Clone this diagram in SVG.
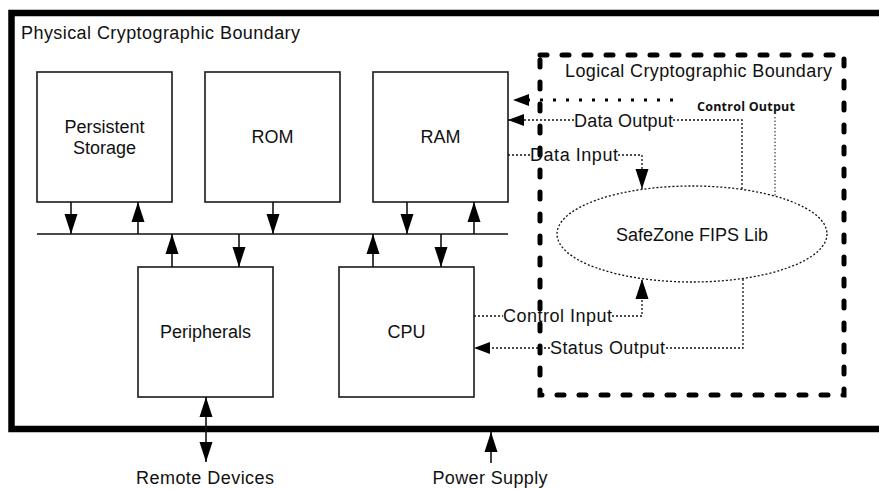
<svg xmlns="http://www.w3.org/2000/svg" width="879" height="489" viewBox="0 0 879 489">
<style>
.box{fill:#fff;stroke:#1a1a1a;stroke-width:1.6}
.lbl{font-family:"Liberation Sans",Arial,sans-serif;font-size:18px;fill:#111}
.mid{text-anchor:middle}
.ln{fill:none;stroke:#111;stroke-width:1.6}
.dot{fill:none;stroke:#111;stroke-width:1.3;stroke-dasharray:2 2}
</style>
<defs>
<marker id="arr" markerUnits="userSpaceOnUse" markerWidth="20" markerHeight="14" refX="20" refY="7" orient="auto-start-reverse"><path d="M0,0.5 L20,7 L0,13.5 z" fill="#000"/></marker>
<marker id="arrs" markerUnits="userSpaceOnUse" markerWidth="16" markerHeight="13" refX="16" refY="6.5" orient="auto"><path d="M0,0.5 L16,6.5 L0,12.5 z" fill="#000"/></marker>
</defs>
<rect width="879" height="489" fill="#fff"/>
<g id="physical-boundary">
<path d="M885,13 H11.5 V429 H885" fill="none" stroke="#000" stroke-width="6.5"/>
<text class="lbl" x="21" y="39" textLength="279">Physical Cryptographic Boundary</text>
</g>
<g id="persistent-storage"><rect class="box" x="37" y="72" width="135" height="130"/><text class="lbl mid" x="104.5" y="133">Persistent</text><text class="lbl mid" x="104.5" y="154">Storage</text></g>
<g id="rom"><rect class="box" x="205" y="72" width="135" height="130"/><text class="lbl mid" x="272.5" y="143">ROM</text></g>
<g id="ram"><rect class="box" x="373" y="72" width="135" height="130"/><text class="lbl mid" x="440.5" y="143">RAM</text></g>
<g id="peripherals"><rect class="box" x="138" y="267" width="135" height="130"/><text class="lbl mid" x="205.5" y="338">Peripherals</text></g>
<g id="cpu"><rect class="box" x="339" y="267" width="135" height="130"/><text class="lbl mid" x="406.5" y="338">CPU</text></g>
<g id="logical-boundary">
<rect x="540" y="55" width="304" height="340" fill="none" stroke="#000" stroke-width="5" stroke-linecap="round" stroke-dasharray="7 15"/>
<text class="lbl" x="565" y="77" textLength="267">Logical Cryptographic Boundary</text>
</g>
<g id="safezone">
<ellipse cx="692" cy="234" rx="135" ry="48" fill="#fff" class="dot"/>
<text class="lbl mid" x="692" y="241">SafeZone FIPS Lib</text>
</g>
<g id="remote-devices"><text class="lbl mid" x="205" y="484" textLength="138">Remote Devices</text></g>
<g id="power-supply"><text class="lbl mid" x="490" y="484" textLength="115">Power Supply</text></g>
<g id="connectors">
<path class="ln" d="M37,234 H508"/>
<path class="ln" d="M71,202 V234" marker-end="url(#arr)"/>
<path class="ln" d="M138,234 V202" marker-end="url(#arr)"/>
<path class="ln" d="M273,202 V234" marker-end="url(#arr)"/>
<path class="ln" d="M407,202 V234" marker-end="url(#arr)"/>
<path class="ln" d="M474,234 V202" marker-end="url(#arr)"/>
<path class="ln" d="M172,267 V234" marker-end="url(#arr)"/>
<path class="ln" d="M239,234 V267" marker-end="url(#arr)"/>
<path class="ln" d="M373,267 V234" marker-end="url(#arr)"/>
<path class="ln" d="M441,234 V267" marker-end="url(#arr)"/>
<path class="ln" d="M206,397 V462" marker-start="url(#arr)" marker-end="url(#arr)"/>
<path class="ln" d="M491,463 V432" marker-end="url(#arr)"/>
<path d="M673,100 H527" fill="none" stroke="#000" stroke-width="3" stroke-dasharray="3 10"/>
<path d="M529,100 H513" fill="none" stroke="none" marker-end="url(#arrs)"/>
<path class="dot" d="M742,189 V120 H673 M574,120 H508" marker-end="url(#arrs)"/>
<text class="lbl" x="574" y="127" textLength="99">Data Output</text>
<path class="dot" d="M508,155 H530 M618,155 H642 V189" marker-end="url(#arr)"/>
<text class="lbl" x="530" y="161" textLength="88">Data Input</text>
<path d="M775,117 V196" fill="none" stroke="#111" stroke-width="1" stroke-dasharray="1.5 2"/>
<text x="697" y="111" font-family="'Open Sans','Liberation Sans',sans-serif" font-weight="700" font-size="12.5" fill="#111" textLength="98">Control Output</text>
<path class="dot" d="M474,316 H503 M612,316 H642 V279" marker-end="url(#arr)"/>
<text class="lbl" x="503" y="322" textLength="109">Control Input</text>
<path class="dot" d="M743,279 V348 H665 M550,348 H474" marker-end="url(#arrs)"/>
<text class="lbl" x="550" y="354" textLength="115">Status Output</text>
</g>
</svg>
